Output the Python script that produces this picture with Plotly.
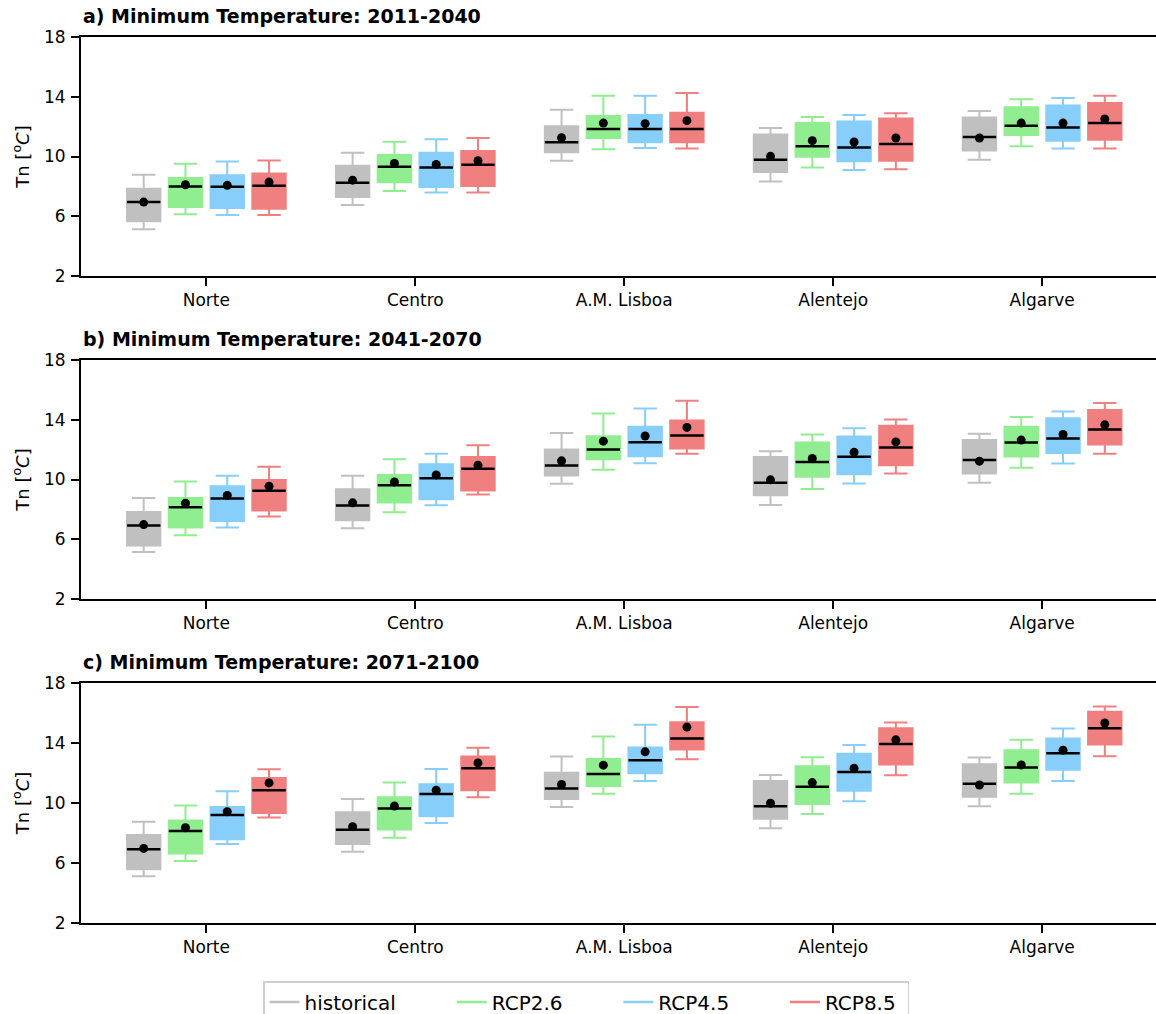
import plotly.graph_objects as go

# Regions and scenarios
REGIONS = ["Norte", "Centro", "A.M. Lisboa", "Alentejo", "Algarve"]
SCENARIOS = ["historical", "RCP2.6", "RCP4.5", "RCP8.5"]
COLORS = ["#c0c0c0", "#90ee90", "#87cefa", "#f08080"]
PERIODS = ["a) Minimum Temperature: 2011-2040",
           "b) Minimum Temperature: 2041-2070",
           "c) Minimum Temperature: 2071-2100"]
Y_TICKS = [2, 6, 10, 14, 18]

# Box statistics per period: one row per scenario, one column per region

# 2011-2040
A_HI = [[8.78, 10.25, 13.13, 11.91, 13.04],
        [9.52, 10.99, 14.07, 12.64, 13.83],
        [9.67, 11.15, 14.07, 12.78, 13.92],
        [9.74, 11.24, 14.25, 12.89, 14.07]]
A_Q3 = [[7.84, 9.38, 12.02, 11.48, 12.62],
        [8.56, 10.10, 12.71, 12.24, 13.29],
        [8.74, 10.25, 12.78, 12.35, 13.42],
        [8.87, 10.37, 12.93, 12.55, 13.58]]
A_MED = [[6.95, 8.25, 10.95, 9.79, 11.30],
         [8.00, 9.32, 11.84, 10.68, 12.06],
         [7.98, 9.27, 11.84, 10.61, 11.95],
         [8.04, 9.45, 11.84, 10.83, 12.24]]
A_MEAN = [[6.95, 8.42, 11.26, 10.01, 11.24],
          [8.11, 9.54, 12.24, 11.06, 12.24],
          [8.07, 9.47, 12.20, 10.97, 12.24],
          [8.29, 9.72, 12.40, 11.24, 12.51]]
A_Q1 = [[5.66, 7.29, 10.28, 8.96, 10.41],
        [6.62, 8.27, 11.24, 9.99, 11.44],
        [6.55, 7.96, 10.95, 9.68, 11.06],
        [6.50, 8.02, 10.95, 9.72, 11.13]]
A_LO = [[5.14, 6.75, 9.72, 8.33, 9.79],
        [6.13, 7.69, 10.48, 9.27, 10.68],
        [6.08, 7.60, 10.57, 9.09, 10.54],
        [6.08, 7.60, 10.54, 9.14, 10.54]]

# 2041-2070
B_HI = [[8.77, 10.25, 13.11, 11.90, 13.06],
        [9.87, 11.36, 14.42, 13.02, 14.18],
        [10.25, 11.72, 14.76, 13.44, 14.56],
        [10.85, 12.30, 15.27, 14.02, 15.12]]
B_Q3 = [[7.83, 9.35, 12.01, 11.50, 12.64],
        [8.77, 10.31, 12.90, 12.48, 13.53],
        [9.55, 11.03, 13.53, 12.88, 14.11],
        [9.96, 11.50, 13.96, 13.60, 14.65]]
B_MED = [[6.92, 8.26, 10.94, 9.78, 11.30],
         [8.15, 9.62, 12.01, 11.18, 12.48],
         [8.73, 10.09, 12.50, 11.52, 12.75],
         [9.24, 10.72, 12.95, 12.15, 13.35]]
B_MEAN = [[6.98, 8.44, 11.25, 9.98, 11.23],
          [8.41, 9.84, 12.57, 11.41, 12.64],
          [8.93, 10.31, 12.91, 11.83, 13.02],
          [9.55, 10.96, 13.49, 12.52, 13.66]]
B_Q1 = [[5.58, 7.27, 10.27, 8.95, 10.40],
        [6.78, 8.46, 11.36, 10.18, 11.54],
        [7.23, 8.68, 11.56, 10.36, 11.77],
        [7.92, 9.26, 12.08, 10.96, 12.35]]
B_LO = [[5.15, 6.74, 9.71, 8.30, 9.78],
        [6.27, 7.81, 10.65, 9.37, 10.78],
        [6.78, 8.28, 11.09, 9.73, 11.07],
        [7.52, 8.99, 11.72, 10.40, 11.72]]

# 2071-2100
C_HI = [[8.75, 10.27, 13.10, 11.87, 13.03],
        [9.84, 11.36, 14.43, 13.05, 14.21],
        [10.78, 12.27, 15.21, 13.86, 14.97],
        [12.25, 13.68, 16.40, 15.37, 16.44]]
C_Q3 = [[7.86, 9.38, 12.01, 11.47, 12.58],
        [8.84, 10.38, 12.94, 12.45, 13.52],
        [9.73, 11.25, 13.70, 13.28, 14.30],
        [11.67, 13.10, 15.39, 14.99, 16.08]]
C_MED = [[6.92, 8.22, 10.96, 9.78, 11.29],
         [8.13, 9.64, 11.94, 11.09, 12.36],
         [9.20, 10.60, 12.85, 12.07, 13.32],
         [10.85, 12.32, 14.30, 13.94, 14.99]]
C_MEAN = [[6.97, 8.42, 11.23, 9.98, 11.20],
          [8.35, 9.80, 12.52, 11.36, 12.54],
          [9.42, 10.85, 13.41, 12.32, 13.52],
          [11.34, 12.67, 15.06, 14.21, 15.33]]
C_Q1 = [[5.59, 7.26, 10.27, 8.95, 10.42],
        [6.64, 8.24, 11.14, 9.93, 11.36],
        [7.59, 9.11, 11.98, 10.82, 12.21],
        [9.33, 10.85, 13.57, 12.56, 13.90]]
C_LO = [[5.12, 6.75, 9.73, 8.31, 9.78],
        [6.14, 7.68, 10.62, 9.26, 10.62],
        [7.26, 8.66, 11.47, 10.11, 11.47],
        [9.04, 10.38, 12.92, 11.85, 13.12]]

PANELS = [
    (A_LO, A_Q1, A_MED, A_Q3, A_HI, A_MEAN),
    (B_LO, B_Q1, B_MED, B_Q3, B_HI, B_MEAN),
    (C_LO, C_Q1, C_MED, C_Q3, C_HI, C_MEAN),
]

BOX_W = 0.16
OFFSETS = [-0.3, -0.1, 0.1, 0.3]
FONT = "DejaVu Sans"
NBSP = "\u00a0"

# vertical extents of the three panels in paper fractions
DOMAINS = [[0.7302, 1.0], [0.3657, 0.6354], [0.0, 0.2709]]

fig = go.Figure()

for p, (lo, q1, med, q3, hi, mean) in enumerate(PANELS):
    xa = "x" if p == 0 else f"x{p + 1}"
    ya = "y" if p == 0 else f"y{p + 1}"
    for s, color in enumerate(COLORS):
        pos = [i + OFFSETS[s] for i in range(len(REGIONS))]
        fig.add_trace(go.Box(
            x=pos, q1=q1[s], median=med[s], q3=q3[s],
            lowerfence=lo[s], upperfence=hi[s],
            width=BOX_W, whiskerwidth=0.7,
            fillcolor=color, line=dict(color=color, width=2),
            boxpoints=False, showlegend=False, hoverinfo="skip",
            xaxis=xa, yaxis=ya,
        ))
        # black median bars
        mx, my = [], []
        for x0, m in zip(pos, med[s]):
            mx += [x0 - BOX_W / 2, x0 + BOX_W / 2, None]
            my += [m, m, None]
        fig.add_trace(go.Scatter(
            x=mx, y=my, mode="lines", line=dict(color="black", width=2.5),
            showlegend=False, hoverinfo="skip", xaxis=xa, yaxis=ya,
        ))
        # mean markers
        fig.add_trace(go.Scatter(
            x=pos, y=mean[s], mode="markers",
            marker=dict(color="black", size=9),
            showlegend=False, hoverinfo="skip", xaxis=xa, yaxis=ya,
        ))

# legend entries drawn as line samples; wider spacing between entries
for k, (name, color) in enumerate(zip(SCENARIOS, COLORS)):
    label = name + (NBSP * 8 if k < len(SCENARIOS) - 1 else NBSP)
    fig.add_trace(go.Scatter(
        x=[None], y=[None], mode="lines", name=label,
        line=dict(color=color, width=2.5), xaxis="x3", yaxis="y3",
    ))

axis_common = dict(
    showline=True, linecolor="black", linewidth=2,
    ticks="outside", ticklen=8, tickwidth=1.5, tickcolor="black",
    showgrid=False, zeroline=False,
    tickfont=dict(family=FONT, size=17, color="black"),
)

layout = dict(
    width=1156, height=1014,
    margin=dict(l=81, r=0, t=37, b=91),
    paper_bgcolor="white", plot_bgcolor="white",
    boxmode="overlay",
    font=dict(family=FONT, color="black"),
    legend=dict(
        orientation="h", xref="container", yref="container",
        x=0.507, xanchor="center", y=0.0325, yanchor="top",
        font=dict(family=FONT, size=20, color="black"),
        bordercolor="#d0d0d0", borderwidth=1.5, bgcolor="white",
    ),
    annotations=[],
)

for p in range(3):
    xk = "xaxis" if p == 0 else f"xaxis{p + 1}"
    yk = "yaxis" if p == 0 else f"yaxis{p + 1}"
    yname = "y" if p == 0 else f"y{p + 1}"
    xname = "x" if p == 0 else f"x{p + 1}"
    layout[xk] = dict(
        axis_common, domain=[0, 1], anchor=yname, mirror=True,
        range=[-0.6, 4.545], tickvals=list(range(len(REGIONS))),
        ticktext=REGIONS,
    )
    layout[yk] = dict(
        axis_common, domain=DOMAINS[p], anchor=xname,
        range=[2, 18], tickvals=Y_TICKS, ticklabelstandoff=2,
        title=dict(text="Tn [<sup>o</sup><i>C</i>]", standoff=10,
                   font=dict(family=FONT, size=18, color="black")),
    )
    layout["annotations"].append(dict(
        text=f"<b>{PERIODS[p]}</b>", xref="paper", x=0, xanchor="left",
        yref=f"{yname} domain", y=1, yanchor="middle", yshift=21,
        showarrow=False, font=dict(family=FONT, size=19, color="black"),
    ))

fig.update_layout(layout)
fig.write_html("out.html")
